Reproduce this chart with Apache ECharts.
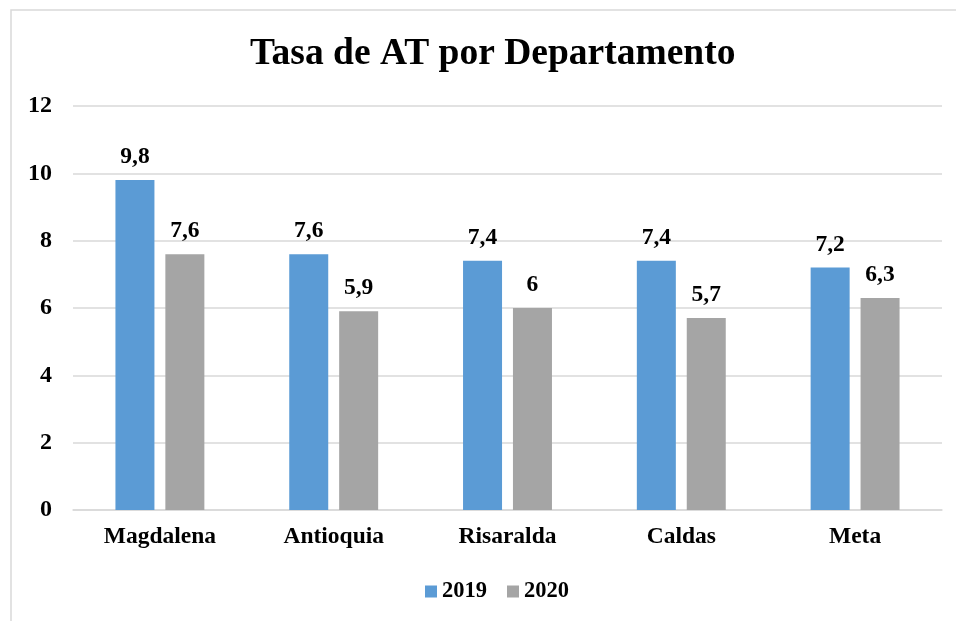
<!DOCTYPE html>
<html>
<head>
<meta charset="utf-8">
<script src="https://cdn.jsdelivr.net/npm/echarts@6/dist/echarts.min.js"></script>
<style>
  html, body { margin: 0; padding: 0; background: #fff; }
  #chart { width: 956px; height: 621px; }
</style>
</head>
<body>
<div id="chart"></div>
<script>
  // datos
  var categorias = ['Magdalena', 'Antioquia', 'Risaralda', 'Caldas', 'Meta'];
  var serie2019 = [9.8, 7.6, 7.4, 7.4, 7.2];
  var serie2020 = [7.6, 5.9, 6, 5.7, 6.3];
  var nombresSeries = ['2019', '2020'];

  var fuente = '"Liberation Serif", "Times New Roman", serif';

  function coma(p) {
    return String(p.value).replace('.', ',');
  }

  var myChart = echarts.init(document.getElementById('chart'));

  var etiqueta = {
    show: true, position: 'top', distance: 11, formatter: coma,
    fontFamily: fuente, fontSize: 23.5, fontWeight: 'bold', color: '#000'
  };

  var option = {
    animation: false,
    backgroundColor: '#fff',
    textStyle: { fontFamily: fuente },
    graphic: [{
      type: 'rect',
      shape: { x: 11, y: 10, width: 1200, height: 1200 },
      style: { fill: 'none', stroke: '#d9d9d9', lineWidth: 1.5 },
      silent: true
    }],
    title: {
      text: 'Tasa de AT por Departamento',
      left: 245,
      top: 30,
      textStyle: { fontFamily: fuente, fontSize: 37.5, fontWeight: 'bold', color: '#000' }
    },
    legend: {
      data: nombresSeries,
      left: 420,
      top: 575,
      icon: 'rect',
      itemWidth: 12,
      itemHeight: 12,
      itemGap: 20,
      textStyle: { fontFamily: fuente, fontSize: 22.5, fontWeight: 'bold', color: '#000' }
    },
    grid: {
      left: 73,
      right: 14,
      top: 106,
      bottom: 111
    },
    xAxis: {
      type: 'category',
      data: categorias,
      axisLine: { lineStyle: { color: '#d9d9d9', width: 1.5 } },
      axisTick: { show: false },
      axisLabel: { margin: 15, fontFamily: fuente, fontSize: 23.5, fontWeight: 'bold', color: '#000' }
    },
    yAxis: {
      type: 'value',
      min: 0,
      max: 12,
      interval: 2,
      axisLine: { show: false },
      axisTick: { show: false },
      splitLine: { lineStyle: { color: '#d9d9d9', width: 1.5 } },
      axisLabel: { margin: 21, fontFamily: fuente, fontSize: 24, fontWeight: 'bold', color: '#000' }
    },
    series: [
      {
        name: nombresSeries[0],
        type: 'bar',
        data: serie2019,
        barWidth: 39,
        barGap: '28%',
        itemStyle: { color: '#5b9bd5' },
        label: etiqueta
      },
      {
        name: nombresSeries[1],
        type: 'bar',
        data: serie2020,
        barWidth: 39,
        barGap: '28%',
        itemStyle: { color: '#a5a5a5' },
        label: etiqueta
      }
    ]
  };

  myChart.setOption(option);
</script>
</body>
</html>
